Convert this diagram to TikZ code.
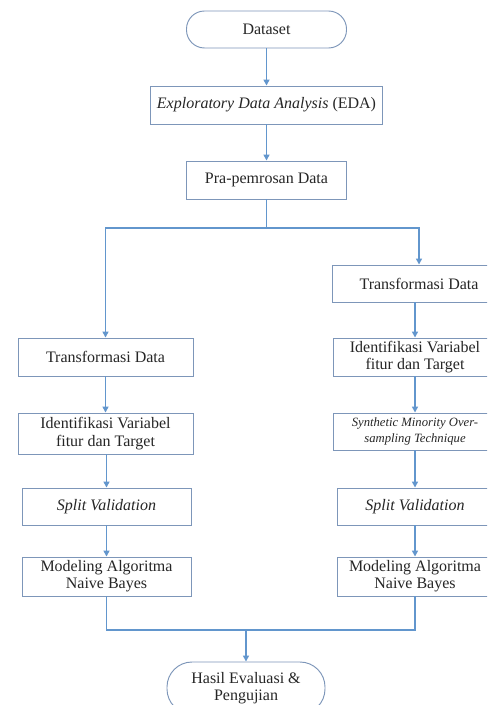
\documentclass[tikz,border=0pt]{standalone}
\usepackage{fontspec}
\setmainfont{Liberation Serif}
\usetikzlibrary{arrows.meta}
\newdimen\px \px=0.75pt
\definecolor{lineblue}{RGB}{98,150,205}
\definecolor{boxline}{RGB}{125,150,185}
\begin{document}
\begin{tikzpicture}[x=0.75pt, y=-0.75pt,
  font=\fontsize{12}{13}\selectfont,
  box/.style={draw=boxline, line width=0.7pt, fill=white, align=center, inner sep=1pt, text=black!85},
  term/.style={box, rounded corners=#1},
  conn/.style={draw=lineblue, line width=1.1pt},
  arr/.style={conn, -{Triangle[width=4.5pt,length=4.5pt]}}]
\useasboundingbox (0,0) rectangle (487,705);
\clip (0,0) rectangle (487,705);
\fill[white] (0,0) rectangle (487,705);

% top column
\node[term=13.5pt, minimum width=120pt, minimum height=27.75pt] (ds) at (266.5,29.5) {Dataset};
\node[box, minimum width=174pt, minimum height=28.5pt] (eda) at (266.5,105) {\textit{Exploratory Data Analysis} (EDA)};
\node[box, minimum width=120pt, minimum height=28.5pt] (pra) at (266.5,180) {Pra-pemrosan Data};
\coordinate (split) at (266.5,228);

% left column
\node[box, minimum width=131.25pt, minimum height=28.5pt] (lt) at (105.5,357) {Transformasi Data};
\node[box, minimum width=131.25pt, minimum height=30.75pt] (li) at (105.5,433.5) {Identifikasi Variabel\\fitur dan Target};
\node[box, minimum width=126.75pt, minimum height=27.75pt] (ls) at (106.5,506.5) {\textit{Split Validation}};
\node[box, minimum width=126.75pt, minimum height=29.25pt] (lm) at (106.5,576.5) {Modeling Algoritma\\Naive Bayes};

% right column
\node[box, minimum width=130.5pt, minimum height=27.75pt] (rt) at (419,283.5) {Transformasi Data};
\node[box, minimum width=123pt, minimum height=28.5pt] (ri) at (415,357) {Identifikasi Variabel\\fitur dan Target};
\node[box, minimum width=123pt, minimum height=27.75pt, font=\fontsize{9.5}{12}\selectfont\itshape] (rsm) at (415,431.5) {Synthetic Minority Over-\\sampling Technique};
\node[box, minimum width=117pt, minimum height=27.75pt] (rs) at (415,506.5) {\textit{Split Validation}};
\node[box, minimum width=117pt, minimum height=29.25pt] (rm) at (415,576.5) {Modeling Algoritma\\Naive Bayes};

% bottom terminal
\coordinate (merge) at (247,630);
\node[term=18.75pt, minimum width=118.5pt, minimum height=39pt] (hs) at (246,688) {Hasil Evaluasi \&\\Pengujian};

% connectors
\draw[arr] (ds.south) -- (eda.north);
\draw[arr] (eda.south) -- (pra.north);
\draw[conn] (pra.south) -- (split);
\draw[arr] (split) -| (lt.north);
\draw[arr] (split) -| (rt.north);

\draw[arr] (lt.south) -- (li.north);
\draw[arr] (li.south -| ls.north) -- (ls.north);
\draw[arr] (ls.south) -- (lm.north);

\draw[arr] (rt.south -| ri.north) -- (ri.north);
\draw[arr] (ri.south) -- (rsm.north);
\draw[arr] (rsm.south) -- (rs.north);
\draw[arr] (rs.south) -- (rm.north);

\draw[conn] (lm.south) |- (merge);
\draw[conn] (rm.south) |- (merge);
\draw[arr] (merge -| hs.north) -- (hs.north);
\end{tikzpicture}
\end{document}
